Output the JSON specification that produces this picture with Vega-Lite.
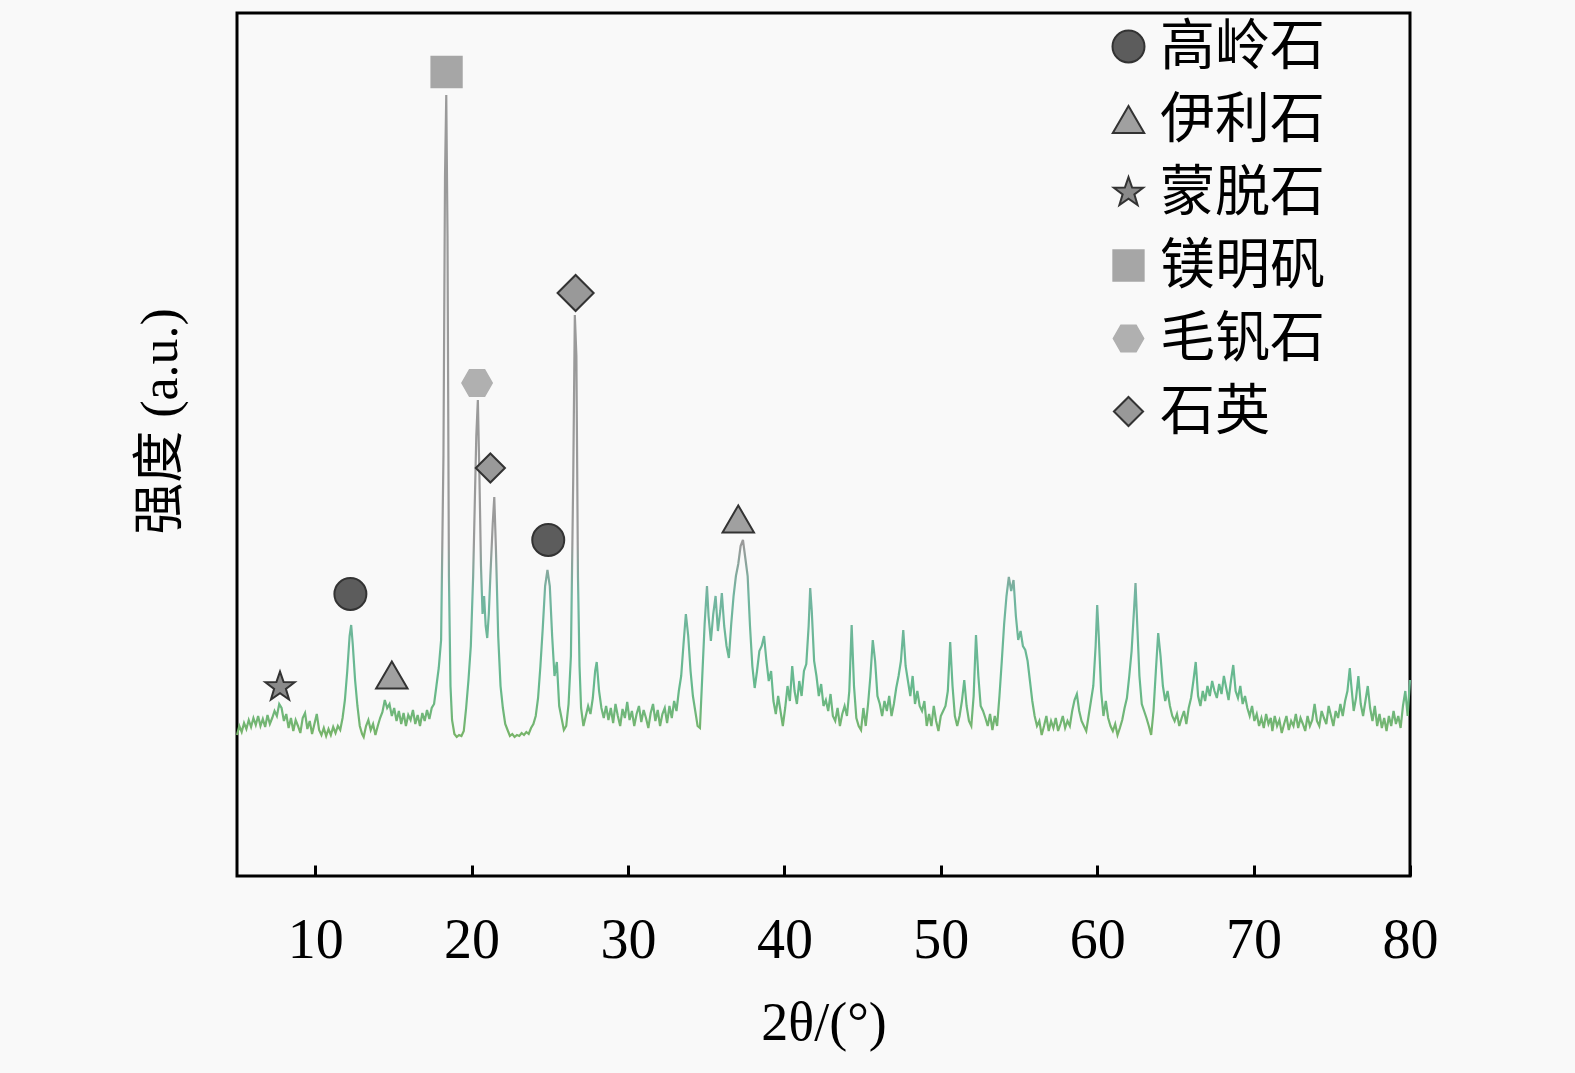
{
  "$schema": "https://vega.github.io/schema/vega-lite/v6.json",
  "width": 1173,
  "height": 863,
  "autosize": {"type": "none"},
  "padding": {"left": 237, "top": 13, "right": 165, "bottom": 197},
  "background": "#f9f9f9",
  "config": {
    "view": {"stroke": "black", "strokeWidth": 3},
    "legend": {
      "orient": "none",
      "legendX": 864,
      "legendY": 6,
      "padding": 0,
      "labelFont": "Noto Sans CJK SC",
      "labelFontSize": 55,
      "labelColor": "black",
      "labelLimit": 400,
      "labelOffset": 4,
      "rowPadding": 17,
      "symbolStrokeWidth": 2
    }
  },
  "datasets": {
    "spectrum": [
      {"angle":5.0,"intensity":141},{"angle":5.15,"intensity":150},{"angle":5.3,"intensity":144},{"angle":5.45,"intensity":153},
      {"angle":5.6,"intensity":147},{"angle":5.75,"intensity":156},{"angle":5.9,"intensity":149},{"angle":6.05,"intensity":158},
      {"angle":6.2,"intensity":151},{"angle":6.35,"intensity":160},{"angle":6.5,"intensity":150},{"angle":6.65,"intensity":157},
      {"angle":6.8,"intensity":149},{"angle":6.95,"intensity":161},{"angle":7.1,"intensity":152},{"angle":7.25,"intensity":158},
      {"angle":7.4,"intensity":165},{"angle":7.55,"intensity":160},{"angle":7.7,"intensity":172},{"angle":7.85,"intensity":168},
      {"angle":8.0,"intensity":155},{"angle":8.15,"intensity":162},{"angle":8.3,"intensity":148},{"angle":8.45,"intensity":158},
      {"angle":8.6,"intensity":145},{"angle":8.75,"intensity":156},{"angle":8.9,"intensity":150},{"angle":9.05,"intensity":143},
      {"angle":9.2,"intensity":158},{"angle":9.35,"intensity":163},{"angle":9.5,"intensity":147},{"angle":9.65,"intensity":155},
      {"angle":9.8,"intensity":142},{"angle":9.95,"intensity":152},{"angle":10.1,"intensity":162},{"angle":10.25,"intensity":146},
      {"angle":10.4,"intensity":141},{"angle":10.55,"intensity":148},{"angle":10.7,"intensity":140},{"angle":10.85,"intensity":147},
      {"angle":11.0,"intensity":141},{"angle":11.15,"intensity":149},{"angle":11.3,"intensity":143},{"angle":11.45,"intensity":150},
      {"angle":11.6,"intensity":146},{"angle":11.75,"intensity":158},{"angle":11.9,"intensity":176},{"angle":12.05,"intensity":205},
      {"angle":12.2,"intensity":240},{"angle":12.3,"intensity":251},{"angle":12.4,"intensity":232},{"angle":12.55,"intensity":196},
      {"angle":12.7,"intensity":170},{"angle":12.85,"intensity":150},{"angle":13.0,"intensity":142},{"angle":13.1,"intensity":139},
      {"angle":13.25,"intensity":150},{"angle":13.4,"intensity":156},{"angle":13.55,"intensity":146},{"angle":13.7,"intensity":152},
      {"angle":13.85,"intensity":141},{"angle":14.0,"intensity":150},{"angle":14.15,"intensity":158},{"angle":14.3,"intensity":164},
      {"angle":14.45,"intensity":176},{"angle":14.6,"intensity":168},{"angle":14.75,"intensity":172},{"angle":14.9,"intensity":160},
      {"angle":15.05,"intensity":168},{"angle":15.2,"intensity":155},{"angle":15.35,"intensity":165},{"angle":15.5,"intensity":152},
      {"angle":15.65,"intensity":163},{"angle":15.8,"intensity":150},{"angle":15.95,"intensity":161},{"angle":16.1,"intensity":156},
      {"angle":16.25,"intensity":166},{"angle":16.4,"intensity":152},{"angle":16.55,"intensity":161},{"angle":16.7,"intensity":150},
      {"angle":16.85,"intensity":163},{"angle":17.0,"intensity":155},{"angle":17.15,"intensity":166},{"angle":17.3,"intensity":157},
      {"angle":17.45,"intensity":168},{"angle":17.6,"intensity":172},{"angle":17.75,"intensity":190},{"angle":17.9,"intensity":208},
      {"angle":18.05,"intensity":236},{"angle":18.2,"intensity":420},{"angle":18.3,"intensity":700},{"angle":18.38,"intensity":781},
      {"angle":18.46,"intensity":640},{"angle":18.55,"intensity":300},{"angle":18.65,"intensity":190},{"angle":18.75,"intensity":156},
      {"angle":18.9,"intensity":142},{"angle":19.05,"intensity":139},{"angle":19.2,"intensity":141},{"angle":19.35,"intensity":140},
      {"angle":19.5,"intensity":145},{"angle":19.65,"intensity":168},{"angle":19.8,"intensity":196},{"angle":19.95,"intensity":230},
      {"angle":20.1,"intensity":300},{"angle":20.2,"intensity":370},{"angle":20.3,"intensity":440},{"angle":20.4,"intensity":476},
      {"angle":20.5,"intensity":400},{"angle":20.6,"intensity":310},{"angle":20.7,"intensity":262},{"angle":20.8,"intensity":280},
      {"angle":20.9,"intensity":250},{"angle":21.0,"intensity":238},{"angle":21.1,"intensity":262},{"angle":21.2,"intensity":300},
      {"angle":21.35,"intensity":352},{"angle":21.45,"intensity":379},{"angle":21.55,"intensity":330},{"angle":21.7,"intensity":240},
      {"angle":21.85,"intensity":190},{"angle":22.0,"intensity":168},{"angle":22.15,"intensity":152},{"angle":22.3,"intensity":146},
      {"angle":22.45,"intensity":140},{"angle":22.6,"intensity":142},{"angle":22.75,"intensity":139},{"angle":22.9,"intensity":141},
      {"angle":23.05,"intensity":140},{"angle":23.2,"intensity":143},{"angle":23.35,"intensity":141},{"angle":23.5,"intensity":144},
      {"angle":23.65,"intensity":142},{"angle":23.8,"intensity":148},{"angle":23.95,"intensity":152},{"angle":24.1,"intensity":160},
      {"angle":24.25,"intensity":178},{"angle":24.4,"intensity":210},{"angle":24.55,"intensity":248},{"angle":24.7,"intensity":290},
      {"angle":24.85,"intensity":306},{"angle":25.0,"intensity":290},{"angle":25.15,"intensity":240},{"angle":25.3,"intensity":200},
      {"angle":25.45,"intensity":214},{"angle":25.6,"intensity":170},{"angle":25.75,"intensity":158},{"angle":25.9,"intensity":146},
      {"angle":26.05,"intensity":150},{"angle":26.2,"intensity":172},{"angle":26.35,"intensity":220},{"angle":26.5,"intensity":400},
      {"angle":26.6,"intensity":561},{"angle":26.7,"intensity":520},{"angle":26.8,"intensity":300},{"angle":26.9,"intensity":210},
      {"angle":27.0,"intensity":168},{"angle":27.15,"intensity":150},{"angle":27.3,"intensity":160},{"angle":27.45,"intensity":170},
      {"angle":27.6,"intensity":162},{"angle":27.75,"intensity":178},{"angle":27.9,"intensity":205},{"angle":28.0,"intensity":214},
      {"angle":28.15,"intensity":185},{"angle":28.3,"intensity":168},{"angle":28.45,"intensity":158},{"angle":28.6,"intensity":170},
      {"angle":28.75,"intensity":156},{"angle":28.9,"intensity":168},{"angle":29.05,"intensity":153},{"angle":29.2,"intensity":172},
      {"angle":29.35,"intensity":160},{"angle":29.5,"intensity":150},{"angle":29.65,"intensity":167},{"angle":29.8,"intensity":158},
      {"angle":29.95,"intensity":174},{"angle":30.1,"intensity":156},{"angle":30.25,"intensity":165},{"angle":30.4,"intensity":150},
      {"angle":30.55,"intensity":162},{"angle":30.7,"intensity":170},{"angle":30.85,"intensity":154},{"angle":31.0,"intensity":166},
      {"angle":31.15,"intensity":158},{"angle":31.3,"intensity":148},{"angle":31.45,"intensity":163},{"angle":31.6,"intensity":172},
      {"angle":31.75,"intensity":155},{"angle":31.9,"intensity":166},{"angle":32.05,"intensity":150},{"angle":32.2,"intensity":162},
      {"angle":32.35,"intensity":168},{"angle":32.5,"intensity":153},{"angle":32.65,"intensity":170},{"angle":32.8,"intensity":158},
      {"angle":32.95,"intensity":175},{"angle":33.1,"intensity":165},{"angle":33.25,"intensity":185},{"angle":33.4,"intensity":200},
      {"angle":33.55,"intensity":232},{"angle":33.7,"intensity":262},{"angle":33.85,"intensity":240},{"angle":34.0,"intensity":205},
      {"angle":34.15,"intensity":180},{"angle":34.3,"intensity":165},{"angle":34.45,"intensity":150},{"angle":34.6,"intensity":148},
      {"angle":34.75,"intensity":200},{"angle":34.9,"intensity":252},{"angle":35.05,"intensity":290},{"angle":35.15,"intensity":260},
      {"angle":35.3,"intensity":235},{"angle":35.45,"intensity":262},{"angle":35.6,"intensity":280},{"angle":35.75,"intensity":245},
      {"angle":35.9,"intensity":265},{"angle":36.0,"intensity":283},{"angle":36.15,"intensity":250},{"angle":36.3,"intensity":230},
      {"angle":36.45,"intensity":218},{"angle":36.6,"intensity":252},{"angle":36.75,"intensity":280},{"angle":36.9,"intensity":300},
      {"angle":37.05,"intensity":312},{"angle":37.2,"intensity":330},{"angle":37.35,"intensity":336},{"angle":37.5,"intensity":318},
      {"angle":37.65,"intensity":300},{"angle":37.8,"intensity":250},{"angle":37.95,"intensity":210},{"angle":38.1,"intensity":188},
      {"angle":38.25,"intensity":205},{"angle":38.4,"intensity":225},{"angle":38.55,"intensity":230},{"angle":38.7,"intensity":240},
      {"angle":38.85,"intensity":215},{"angle":39.0,"intensity":195},{"angle":39.15,"intensity":205},{"angle":39.3,"intensity":175},
      {"angle":39.45,"intensity":162},{"angle":39.6,"intensity":180},{"angle":39.75,"intensity":165},{"angle":39.9,"intensity":150},
      {"angle":40.05,"intensity":168},{"angle":40.2,"intensity":190},{"angle":40.35,"intensity":175},{"angle":40.5,"intensity":210},
      {"angle":40.65,"intensity":185},{"angle":40.8,"intensity":172},{"angle":40.95,"intensity":195},{"angle":41.1,"intensity":180},
      {"angle":41.25,"intensity":205},{"angle":41.4,"intensity":212},{"angle":41.55,"intensity":250},{"angle":41.65,"intensity":288},
      {"angle":41.75,"intensity":265},{"angle":41.9,"intensity":215},{"angle":42.05,"intensity":200},{"angle":42.2,"intensity":180},
      {"angle":42.35,"intensity":192},{"angle":42.5,"intensity":170},{"angle":42.65,"intensity":176},{"angle":42.8,"intensity":165},
      {"angle":42.95,"intensity":182},{"angle":43.1,"intensity":160},{"angle":43.25,"intensity":155},{"angle":43.4,"intensity":168},
      {"angle":43.55,"intensity":150},{"angle":43.7,"intensity":162},{"angle":43.85,"intensity":170},{"angle":44.0,"intensity":160},
      {"angle":44.15,"intensity":185},{"angle":44.3,"intensity":251},{"angle":44.45,"intensity":190},{"angle":44.6,"intensity":158},
      {"angle":44.75,"intensity":150},{"angle":44.9,"intensity":146},{"angle":45.05,"intensity":168},{"angle":45.2,"intensity":150},
      {"angle":45.35,"intensity":172},{"angle":45.5,"intensity":200},{"angle":45.65,"intensity":236},{"angle":45.8,"intensity":215},
      {"angle":45.95,"intensity":180},{"angle":46.1,"intensity":172},{"angle":46.25,"intensity":160},{"angle":46.4,"intensity":175},
      {"angle":46.55,"intensity":165},{"angle":46.7,"intensity":180},{"angle":46.85,"intensity":160},{"angle":47.0,"intensity":172},
      {"angle":47.15,"intensity":188},{"angle":47.3,"intensity":200},{"angle":47.45,"intensity":215},{"angle":47.6,"intensity":246},
      {"angle":47.75,"intensity":210},{"angle":47.9,"intensity":195},{"angle":48.05,"intensity":180},{"angle":48.2,"intensity":200},
      {"angle":48.35,"intensity":172},{"angle":48.5,"intensity":185},{"angle":48.65,"intensity":170},{"angle":48.8,"intensity":165},
      {"angle":48.95,"intensity":175},{"angle":49.1,"intensity":150},{"angle":49.25,"intensity":162},{"angle":49.4,"intensity":150},
      {"angle":49.55,"intensity":170},{"angle":49.7,"intensity":155},{"angle":49.85,"intensity":145},{"angle":50.0,"intensity":160},
      {"angle":50.15,"intensity":165},{"angle":50.3,"intensity":170},{"angle":50.45,"intensity":185},{"angle":50.6,"intensity":234},
      {"angle":50.75,"intensity":190},{"angle":50.9,"intensity":160},{"angle":51.05,"intensity":150},{"angle":51.2,"intensity":160},
      {"angle":51.35,"intensity":175},{"angle":51.5,"intensity":196},{"angle":51.65,"intensity":170},{"angle":51.8,"intensity":155},
      {"angle":51.95,"intensity":150},{"angle":52.1,"intensity":180},{"angle":52.25,"intensity":241},{"angle":52.4,"intensity":200},
      {"angle":52.55,"intensity":170},{"angle":52.7,"intensity":165},{"angle":52.85,"intensity":158},{"angle":53.0,"intensity":150},
      {"angle":53.15,"intensity":162},{"angle":53.3,"intensity":146},{"angle":53.45,"intensity":160},{"angle":53.6,"intensity":150},
      {"angle":53.75,"intensity":180},{"angle":53.9,"intensity":215},{"angle":54.05,"intensity":252},{"angle":54.2,"intensity":280},
      {"angle":54.35,"intensity":299},{"angle":54.5,"intensity":285},{"angle":54.65,"intensity":296},{"angle":54.8,"intensity":260},
      {"angle":54.95,"intensity":236},{"angle":55.1,"intensity":245},{"angle":55.25,"intensity":230},{"angle":55.4,"intensity":226},
      {"angle":55.55,"intensity":215},{"angle":55.7,"intensity":195},{"angle":55.85,"intensity":175},{"angle":56.0,"intensity":160},
      {"angle":56.15,"intensity":150},{"angle":56.3,"intensity":155},{"angle":56.45,"intensity":141},{"angle":56.6,"intensity":150},
      {"angle":56.75,"intensity":160},{"angle":56.9,"intensity":145},{"angle":57.05,"intensity":155},{"angle":57.2,"intensity":148},
      {"angle":57.35,"intensity":158},{"angle":57.5,"intensity":145},{"angle":57.65,"intensity":152},{"angle":57.8,"intensity":160},
      {"angle":57.95,"intensity":148},{"angle":58.1,"intensity":155},{"angle":58.25,"intensity":150},{"angle":58.4,"intensity":165},
      {"angle":58.55,"intensity":176},{"angle":58.7,"intensity":182},{"angle":58.85,"intensity":165},{"angle":59.0,"intensity":155},
      {"angle":59.15,"intensity":150},{"angle":59.3,"intensity":145},{"angle":59.45,"intensity":160},{"angle":59.6,"intensity":175},
      {"angle":59.75,"intensity":190},{"angle":59.9,"intensity":230},{"angle":60.0,"intensity":271},{"angle":60.1,"intensity":240},
      {"angle":60.25,"intensity":185},{"angle":60.4,"intensity":160},{"angle":60.55,"intensity":175},{"angle":60.7,"intensity":158},
      {"angle":60.85,"intensity":150},{"angle":61.0,"intensity":145},{"angle":61.15,"intensity":152},{"angle":61.3,"intensity":141},
      {"angle":61.45,"intensity":148},{"angle":61.6,"intensity":156},{"angle":61.75,"intensity":168},{"angle":61.9,"intensity":178},
      {"angle":62.05,"intensity":200},{"angle":62.2,"intensity":225},{"angle":62.35,"intensity":265},{"angle":62.45,"intensity":293},
      {"angle":62.55,"intensity":255},{"angle":62.7,"intensity":200},{"angle":62.85,"intensity":172},{"angle":63.0,"intensity":165},
      {"angle":63.15,"intensity":158},{"angle":63.3,"intensity":150},{"angle":63.45,"intensity":141},{"angle":63.6,"intensity":165},
      {"angle":63.75,"intensity":205},{"angle":63.9,"intensity":243},{"angle":64.05,"intensity":220},{"angle":64.2,"intensity":190},
      {"angle":64.35,"intensity":175},{"angle":64.5,"intensity":185},{"angle":64.65,"intensity":170},{"angle":64.8,"intensity":160},
      {"angle":64.95,"intensity":155},{"angle":65.1,"intensity":162},{"angle":65.25,"intensity":150},{"angle":65.4,"intensity":158},
      {"angle":65.55,"intensity":165},{"angle":65.7,"intensity":152},{"angle":65.85,"intensity":168},{"angle":66.0,"intensity":178},
      {"angle":66.15,"intensity":195},{"angle":66.3,"intensity":214},{"angle":66.45,"intensity":180},{"angle":66.6,"intensity":170},
      {"angle":66.75,"intensity":185},{"angle":66.9,"intensity":175},{"angle":67.05,"intensity":190},{"angle":67.2,"intensity":180},
      {"angle":67.35,"intensity":195},{"angle":67.5,"intensity":185},{"angle":67.65,"intensity":178},{"angle":67.8,"intensity":192},
      {"angle":67.95,"intensity":182},{"angle":68.1,"intensity":200},{"angle":68.25,"intensity":188},{"angle":68.4,"intensity":176},
      {"angle":68.55,"intensity":195},{"angle":68.7,"intensity":211},{"angle":68.85,"intensity":185},{"angle":69.0,"intensity":178},
      {"angle":69.15,"intensity":190},{"angle":69.3,"intensity":172},{"angle":69.45,"intensity":180},{"angle":69.6,"intensity":168},
      {"angle":69.75,"intensity":160},{"angle":69.9,"intensity":170},{"angle":70.05,"intensity":155},{"angle":70.2,"intensity":162},
      {"angle":70.35,"intensity":150},{"angle":70.5,"intensity":158},{"angle":70.65,"intensity":148},{"angle":70.8,"intensity":162},
      {"angle":70.95,"intensity":152},{"angle":71.1,"intensity":158},{"angle":71.2,"intensity":145},{"angle":71.35,"intensity":160},
      {"angle":71.5,"intensity":150},{"angle":71.65,"intensity":156},{"angle":71.8,"intensity":143},{"angle":71.95,"intensity":152},
      {"angle":72.1,"intensity":160},{"angle":72.25,"intensity":146},{"angle":72.4,"intensity":155},{"angle":72.55,"intensity":150},
      {"angle":72.7,"intensity":162},{"angle":72.85,"intensity":148},{"angle":73.0,"intensity":158},{"angle":73.15,"intensity":152},
      {"angle":73.3,"intensity":145},{"angle":73.45,"intensity":160},{"angle":73.6,"intensity":150},{"angle":73.75,"intensity":156},
      {"angle":73.9,"intensity":172},{"angle":74.05,"intensity":155},{"angle":74.2,"intensity":150},{"angle":74.35,"intensity":165},
      {"angle":74.5,"intensity":158},{"angle":74.65,"intensity":152},{"angle":74.8,"intensity":170},{"angle":74.95,"intensity":160},
      {"angle":75.1,"intensity":150},{"angle":75.25,"intensity":165},{"angle":75.4,"intensity":158},{"angle":75.55,"intensity":172},
      {"angle":75.7,"intensity":160},{"angle":75.85,"intensity":175},{"angle":76.0,"intensity":185},{"angle":76.15,"intensity":208},
      {"angle":76.25,"intensity":190},{"angle":76.4,"intensity":165},{"angle":76.55,"intensity":178},{"angle":76.7,"intensity":200},
      {"angle":76.85,"intensity":172},{"angle":77.0,"intensity":160},{"angle":77.15,"intensity":175},{"angle":77.3,"intensity":190},
      {"angle":77.45,"intensity":168},{"angle":77.6,"intensity":155},{"angle":77.75,"intensity":170},{"angle":77.9,"intensity":150},
      {"angle":78.05,"intensity":162},{"angle":78.2,"intensity":148},{"angle":78.35,"intensity":158},{"angle":78.5,"intensity":145},
      {"angle":78.65,"intensity":160},{"angle":78.8,"intensity":150},{"angle":78.95,"intensity":165},{"angle":79.1,"intensity":152},
      {"angle":79.25,"intensity":160},{"angle":79.4,"intensity":148},{"angle":79.55,"intensity":170},{"angle":79.7,"intensity":185},
      {"angle":79.85,"intensity":160},{"angle":80.0,"intensity":196}
    ],
    "phases": [
      {"angle":7.75,"intensity":189,"mineral":"蒙脱石"},
      {"angle":12.25,"intensity":282,"mineral":"高岭石"},
      {"angle":14.9,"intensity":201,"mineral":"伊利石"},
      {"angle":18.4,"intensity":804,"mineral":"镁明矾"},
      {"angle":20.35,"intensity":493,"mineral":"毛钒石"},
      {"angle":21.2,"intensity":408,"mineral":"石英"},
      {"angle":24.9,"intensity":336,"mineral":"高岭石"},
      {"angle":26.65,"intensity":583,"mineral":"石英"},
      {"angle":37.05,"intensity":357,"mineral":"伊利石"}
    ]
  },
  "encoding": {
    "x": {
      "field": "angle",
      "type": "quantitative",
      "scale": {"domain": [5, 80], "nice": false, "zero": false},
      "axis": {
        "values": [10, 20, 30, 40, 50, 60, 70, 80],
        "grid": false,
        "domain": false,
        "tickSize": -11,
        "tickWidth": 3,
        "tickColor": "black",
        "labelFlush": false,
        "labelFont": "Liberation Serif",
        "labelFontSize": 56,
        "labelColor": "black",
        "labelPadding": 48,
        "title": "2θ/(°)",
        "titleFont": "Liberation Serif",
        "titleFontSize": 54,
        "titleFontWeight": "normal",
        "titleColor": "black",
        "titlePadding": 28
      }
    },
    "y": {
      "field": "intensity",
      "type": "quantitative",
      "scale": {"domain": [0, 863], "nice": false},
      "axis": {
        "labels": false,
        "ticks": false,
        "domain": false,
        "grid": false,
        "title": "强度 (a.u.)",
        "titleFont": "Liberation Serif, Noto Sans CJK SC",
        "titleFontSize": 52,
        "titleFontWeight": "normal",
        "titleColor": "black",
        "titlePadding": 50,
        "titleY": 408
      }
    }
  },
  "layer": [
    {
      "data": {"name": "spectrum"},
      "mark": {
        "type": "line",
        "strokeWidth": 2.2,
        "stroke": {
          "gradient": "linear",
          "x1": 0, "y1": 0, "x2": 0, "y2": 1,
          "stops": [
            {"offset": 0, "color": "#9a9a9a"},
            {"offset": 0.7, "color": "#9a9a9a"},
            {"offset": 0.78, "color": "#72b5a0"},
            {"offset": 0.92, "color": "#66b98e"},
            {"offset": 1, "color": "#78b468"}
          ]
        }
      }
    },
    {
      "data": {"name": "phases"},
      "mark": {"type": "point", "filled": true, "opacity": 1, "strokeWidth": 2},
      "encoding": {
        "shape": {
          "field": "mineral",
          "type": "nominal",
          "title": null,
          "scale": {
            "domain": ["高岭石", "伊利石", "蒙脱石", "镁明矾", "毛钒石", "石英"],
            "range": [
              "circle",
              "triangle-up",
              "M0,-1L0.235,-0.324L0.951,-0.309L0.38,0.124L0.588,0.809L0,0.4L-0.588,0.809L-0.38,0.124L-0.951,-0.309L-0.235,-0.324Z",
              "square",
              "M1,0L0.5,0.866L-0.5,0.866L-1,0L-0.5,-0.866L0.5,-0.866Z",
              "diamond"
            ]
          }
        },
        "fill": {
          "field": "mineral",
          "type": "nominal",
          "title": null,
          "scale": {
            "domain": ["高岭石", "伊利石", "蒙脱石", "镁明矾", "毛钒石", "石英"],
            "range": ["#5c5c5c", "#a0a0a0", "#8a8a8a", "#a6a6a6", "#b0b0b0", "#999999"]
          }
        },
        "stroke": {
          "field": "mineral",
          "type": "nominal",
          "title": null,
          "scale": {
            "domain": ["高岭石", "伊利石", "蒙脱石", "镁明矾", "毛钒石", "石英"],
            "range": ["#333333", "#333333", "#333333", "#a6a6a6", "#b0b0b0", "#333333"]
          }
        },
        "size": {
          "condition": {"test": "datum.mineral == '石英' && datum.intensity > 550", "value": 1300},
          "field": "mineral",
          "type": "nominal",
          "title": null,
          "scale": {
            "domain": ["高岭石", "伊利石", "蒙脱石", "镁明矾", "毛钒石", "石英"],
            "range": [1024, 850, 1000, 700, 800, 730]
          }
        }
      }
    }
  ]
}
